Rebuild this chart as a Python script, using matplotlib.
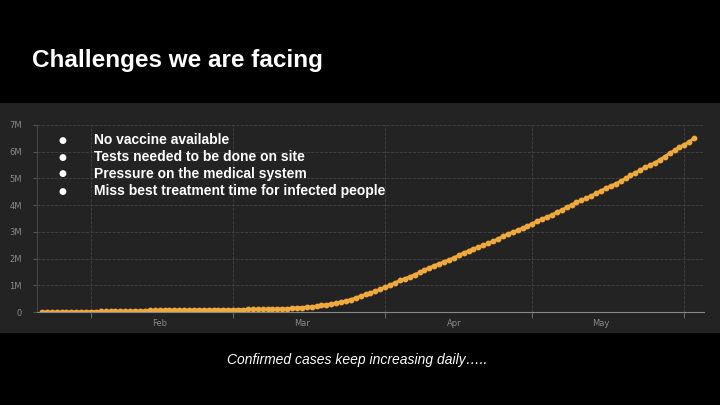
import matplotlib
matplotlib.use("Agg")
import matplotlib.pyplot as plt
import numpy as np
from matplotlib.patches import Rectangle

start_date = "2020-01-22"
cases_m = [
 0.0006,0.0007,0.0009,0.0014,0.002,0.0029,0.0055,0.006,0.0078,0.0098,
 0.0118,0.0165,0.0194,0.0236,0.0275,0.0309,0.0344,0.0371,0.0402,0.0424,0.0445,0.0451,0.0603,0.0668,0.0688,0.0711,0.0731,0.0753,0.0755,0.0760,0.0768,0.0785,0.0788,0.0796,0.0804,0.0813,0.0824,0.0839,0.0859,
 0.088,0.090,0.093,0.095,0.098,0.102,0.106,0.110,0.114,0.119,0.126,0.128,0.146,0.157,0.168,0.182,0.198,0.218,0.247,0.276,0.305,0.337,0.378,0.418,0.467,0.529,0.593,0.661,0.720,0.782,0.859,
 0.93,1.01,1.09,1.18,1.25,1.32,1.40,1.48,1.57,1.66,1.74,1.81,1.88,1.95,2.03,2.12,2.21,2.29,2.37,2.43,2.50,2.57,2.65,2.74,2.83,2.92,2.99,3.06,3.14,3.22,
 3.31,3.40,3.48,3.56,3.64,3.73,3.82,3.92,4.01,4.10,4.18,4.26,4.35,4.44,4.54,4.64,4.72,4.80,4.90,5.00,5.11,5.21,5.31,5.41,5.50,5.59,5.70,5.82,5.94,6.06,6.17,
 6.27,6.37,6.52]
y_ticks = [0, 1, 2, 3, 4, 5, 6, 7]
y_labels = ["0", "1M", "2M", "3M", "4M", "5M", "6M", "7M"]
month_labels = ["Feb", "Mar", "Apr", "May"]
bullets = ["No vaccine available", "Tests needed to be done on site",
           "Pressure on the medical system", "Miss best treatment time for infected people"]
title = "Challenges we are facing"
caption = "Confirmed cases keep increasing daily….."

dates = np.array([np.datetime64(start_date) + np.timedelta64(i, "D") for i in range(len(cases_m))])

fig = plt.figure(figsize=(7.2, 4.05), dpi=100)
fig.patch.set_facecolor("black")
fig.patches.append(Rectangle((0, 1 - 333/405), 1, 230/405, transform=fig.transFigure,
                             facecolor="#232323", edgecolor="none", zorder=-5))

ax = fig.add_axes([37/720, 1 - 312/405, 667/720, 187/405])
ax.set_zorder(2)
ax.set_facecolor("none")
ax.plot(dates, cases_m, color="#f0a93c", marker="o", markersize=3.2, linewidth=2)
ax.set_ylim(0, 7)
ax.set_xlim(np.datetime64("2020-01-21"), np.datetime64("2020-06-05"))
ax.set_yticks(y_ticks)
ax.set_yticklabels(y_labels)
major = [np.datetime64(d) for d in ["2020-02-15", "2020-03-15", "2020-04-15", "2020-05-15"]]
ax.set_xticks(major)
ax.set_xticklabels(month_labels)
minor = [np.datetime64(d) for d in ["2020-02-01", "2020-03-01", "2020-04-01", "2020-05-01", "2020-06-01"]]
ax.set_xticks(minor, minor=True)
ax.tick_params(axis="x", which="major", length=0, colors="#8a8a8a", labelsize=6, pad=5)
ax.tick_params(axis="x", which="minor", length=4, color="#777777")
ax.tick_params(axis="y", length=3, color="#555555", colors="#8a8a8a", labelsize=6, pad=8)
ax.grid(True, axis="y", color="#444444", linestyle="--", linewidth=0.6)
ax.grid(True, axis="x", which="minor", color="#444444", linestyle="--", linewidth=0.6)
for s in ["top", "right"]:
    ax.spines[s].set_visible(False)
ax.spines["bottom"].set_color("#888888")
ax.spines["left"].set_color("#444444")

fig.text(32/720, 1 - 60/405, title, color="white", fontsize=17.5, fontweight="bold",
         va="center", family="Liberation Sans", zorder=5)
for i, b in enumerate(bullets):
    y = 1 - (140 + 17*i)/405
    fig.text(58/720, y, "●", color="white", fontsize=6.5, va="center", family="DejaVu Sans", zorder=5)
    fig.text(94/720, y, b, color="white", fontsize=10, va="center", fontweight="bold",
             family="Liberation Sans", zorder=5)
fig.text(357/720, 1 - 360/405, caption, color="white", fontsize=10, style="italic",
         ha="center", va="center", family="Liberation Sans", zorder=5)

fig.savefig("out.png", dpi=100, facecolor="black")
